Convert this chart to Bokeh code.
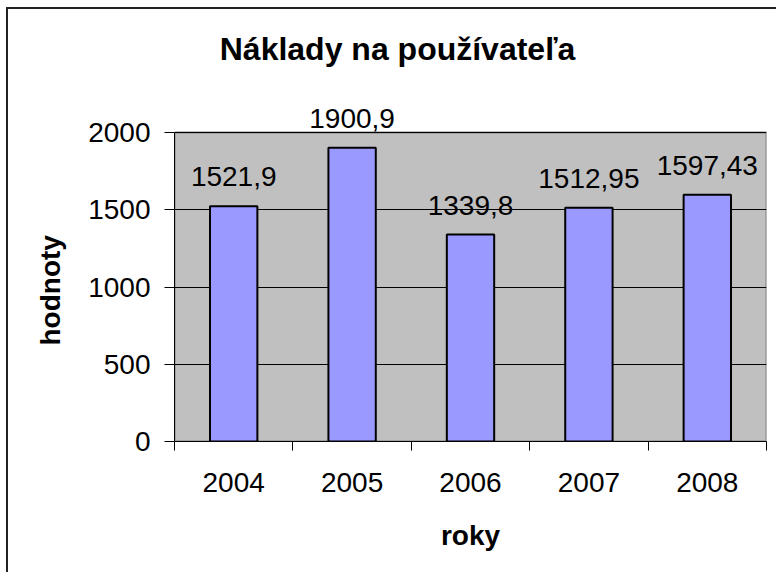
from bokeh.plotting import figure
from bokeh.models import FixedTicker, Range1d, LabelSet, Label, ColumnDataSource, BoxAnnotation, Title
from bokeh.core.properties import value
from bokeh.embed import file_html
from bokeh.resources import INLINE

years = ["2004", "2005", "2006", "2007", "2008"]
costs = [1521.9, 1900.9, 1339.8, 1512.95, 1597.43]
y_ticks = [0, 500, 1000, 1500, 2000]
y_max = 2000
title_text = "Náklady na používateľa"
x_label = "roky"
y_label = "hodnoty"

FONT = "Liberation Sans"

# layout (pixels)
AREA_H = 309        # height of the grey plot area
EXTRA_TOP = 112     # white space above the grey area kept inside the frame
y_end = y_max * (AREA_H + EXTRA_TOP) / AREA_H

xs = [i + 0.5 for i in range(len(years))]
labels = [str(v).replace(".", ",") for v in costs]
src = ColumnDataSource(dict(x=xs, top=costs, lab=labels))

p = figure(width=770, height=565, output_backend="svg", toolbar_location=None,
           x_range=Range1d(0, len(years)), y_range=Range1d(0, y_end),
           min_border_left=166, min_border_right=12, min_border_top=11, min_border_bottom=133)
p.styles = {"margin-left": "6px", "margin-top": "7px",
            "border-left": "2px solid #222", "border-top": "2px solid #222"}

p.background_fill_color = "white"
p.border_fill_color = "white"
p.outline_line_color = None

p.add_layout(BoxAnnotation(bottom=0, top=y_max, fill_color="#C0C0C0", fill_alpha=1,
                           line_color="#808080", line_width=2, line_alpha=1, level="image"))

p.vbar(x="x", top="top", width=0.4, source=src, fill_color="#9999FF", line_color="black", line_width=2)

p.add_layout(LabelSet(x="x", y="top", text="lab", source=src, text_align="center",
                      text_baseline="alphabetic", y_offset=20, text_font=value(FONT),
                      text_font_size=value("28px"), text_color="black"))

# axes
p.xaxis.ticker = FixedTicker(ticks=xs, minor_ticks=list(range(len(years) + 1)))
p.xaxis.major_label_overrides = {x: y for x, y in zip(xs, years)}
p.xaxis.major_tick_line_color = None
p.xaxis.minor_tick_line_color = "black"
p.xaxis.minor_tick_out = 9
p.xaxis.minor_tick_in = 0
p.xaxis.major_label_standoff = 22
p.xaxis.axis_label = x_label
p.xaxis.axis_label_standoff = 25

p.yaxis.ticker = FixedTicker(ticks=y_ticks)
p.yaxis.bounds = (0, y_max)
p.yaxis.minor_tick_line_color = None
p.yaxis.major_tick_out = 10
p.yaxis.major_tick_in = 0
p.yaxis.major_label_standoff = 14

for ax in (p.xaxis, p.yaxis):
    ax.axis_line_color = "black"
    ax.axis_line_width = 1
    ax.major_label_text_font = FONT
    ax.major_label_text_font_size = "28px"
    ax.major_label_text_color = "black"
    ax.axis_label_text_font = FONT
    ax.axis_label_text_font_size = "28px"
    ax.axis_label_text_font_style = "bold"
    ax.axis_label_text_color = "black"

p.xgrid.grid_line_color = None
p.ygrid.ticker = FixedTicker(ticks=y_ticks)
p.ygrid.grid_line_color = "black"
p.ygrid.grid_line_width = 1

# y-axis title, centred on the grey area only
p.add_layout(Title(text=y_label, align="left", offset=96, text_font=FONT,
                   text_font_size="28px", text_font_style="bold", text_color="black",
                   standoff=40), "left")

# chart title (centred over the whole chart, not over the plot area)
p.add_layout(Label(x=223, y=393, x_units="screen", y_units="screen", text=title_text,
                   text_align="center", text_baseline="alphabetic", text_font=FONT,
                   text_font_size="32px", text_font_style="bold", text_color="black"))

open("out.html", "w").write(file_html(p, INLINE))
